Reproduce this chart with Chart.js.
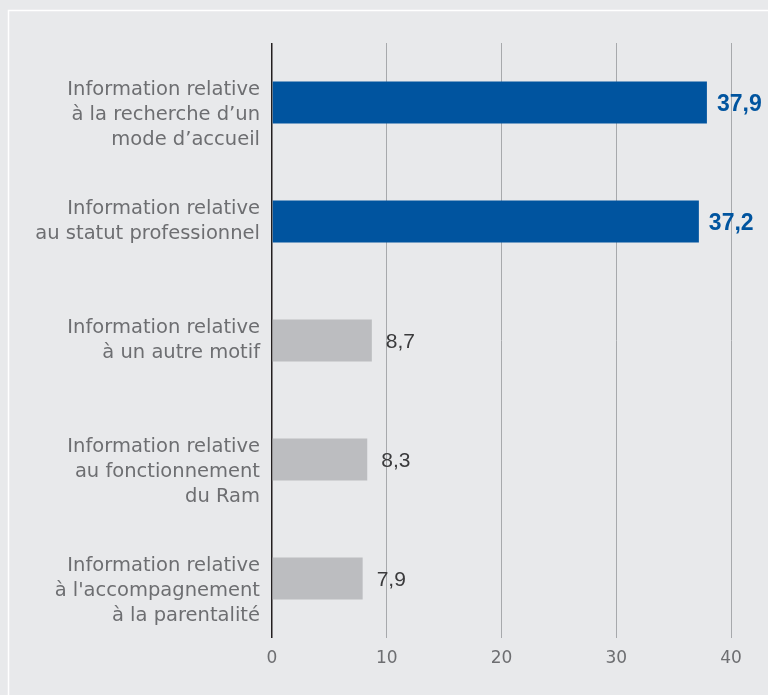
<!DOCTYPE html>
<html lang="fr">
<head>
<meta charset="UTF-8">
<title>Information</title>
<script src="https://cdn.jsdelivr.net/npm/chart.js"></script>
<style>
  html, body { margin: 0; padding: 0; background: #e8e9eb; overflow: hidden; }
  #wrap { width: 768px; height: 695px; }
</style>
</head>
<body>
<div id="wrap"><canvas id="canvas"></canvas></div>
<script>
// data
const categories = [
  ["Information relative", "à la recherche d’un", "mode d’accueil"],
  ["Information relative", "au statut professionnel"],
  ["Information relative", "à un autre motif"],
  ["Information relative", "au fonctionnement", "du Ram"],
  ["Information relative", "à l'accompagnement", "à la parentalité"]
];
const values = [37.9, 37.2, 8.7, 8.3, 7.9];
const highlighted = [true, true, false, false, false];
const xTicks = [0, 10, 20, 30, 40];

const BLUE = '#00549f';
const GREY = '#bcbdc0';
const TEXT = '#6d6e71';
const labelFont = '19.5px "DejaVu Sans", sans-serif';

const background = {
  id: 'background',
  beforeDraw(chart) {
    const c = chart.ctx;
    c.save();
    c.fillStyle = '#e8e9eb';
    c.fillRect(0, 0, chart.width, chart.height);
    c.strokeStyle = '#ffffff';
    c.lineWidth = 1.5;
    c.strokeRect(8.5, 10.5, 900, 900);
    c.restore();
  }
};

// category labels drawn right aligned, several lines
const catLabels = {
  id: 'catLabels',
  afterDraw(chart) {
    const c = chart.ctx;
    const y = chart.scales.y;
    c.save();
    c.font = labelFont;
    c.fillStyle = TEXT;
    c.textAlign = 'right';
    c.textBaseline = 'middle';
    categories.forEach((lines, i) => {
      const cy = y.getPixelForValue(i);
      lines.forEach((t, j) => c.fillText(t, 260, cy - 13 + j * 25));
    });
    c.restore();
  }
};

const valueLabels = {
  id: 'valueLabels',
  afterDatasetsDraw(chart) {
    const c = chart.ctx;
    const meta = chart.getDatasetMeta(0);
    c.save();
    c.textAlign = 'left';
    c.textBaseline = 'middle';
    meta.data.forEach((bar, i) => {
      const txt = values[i].toFixed(1).replace('.', ',');
      if (highlighted[i]) {
        c.font = 'bold 23px "Liberation Sans", Arial, sans-serif';
        c.fillStyle = BLUE;
        c.fillText(txt, bar.x + 10, bar.y + 2);
      } else {
        c.font = '21px "Liberation Sans", Arial, sans-serif';
        c.fillStyle = '#3a3a3c';
        c.fillText(txt, bar.x + 14, bar.y + 2);
      }
    });
    c.restore();
  }
};

new Chart(document.getElementById('canvas'), {
  type: 'bar',
  data: {
    labels: categories.map(l => l.join(' ')),
    datasets: [{
      data: values,
      backgroundColor: highlighted.map(h => h ? BLUE : GREY),
      borderWidth: 0,
      categoryPercentage: 1,
      barPercentage: 0.355
    }]
  },
  options: {
    indexAxis: 'y',
    responsive: true,
    maintainAspectRatio: false,
    animation: false,
    layout: { padding: { left: 0, right: 37, top: 43, bottom: 0 } },
    plugins: { legend: { display: false }, tooltip: { enabled: false } },
    scales: {
      x: {
        min: 0, max: 40,
        afterBuildTicks(scale) { scale.ticks = xTicks.map(v => ({ value: v })); },
        afterFit(scale) { scale.height = 57; },
        border: { display: false },
        grid: {
          drawTicks: false,
          color: ctx => ctx.tick && ctx.tick.value === 0 ? '#231f20' : '#a7a9ac',
          lineWidth: ctx => ctx.tick && ctx.tick.value === 0 ? 1.5 : 1
        },
        ticks: {
          padding: 10,
          color: TEXT,
          font: { family: '"DejaVu Sans", sans-serif', size: 17 }
        }
      },
      y: {
        afterFit(scale) { scale.width = 272; },
        border: { display: false },
        grid: { display: false },
        ticks: { display: false }
      }
    }
  },
  plugins: [background, catLabels, valueLabels]
});
</script>
</body>
</html>
